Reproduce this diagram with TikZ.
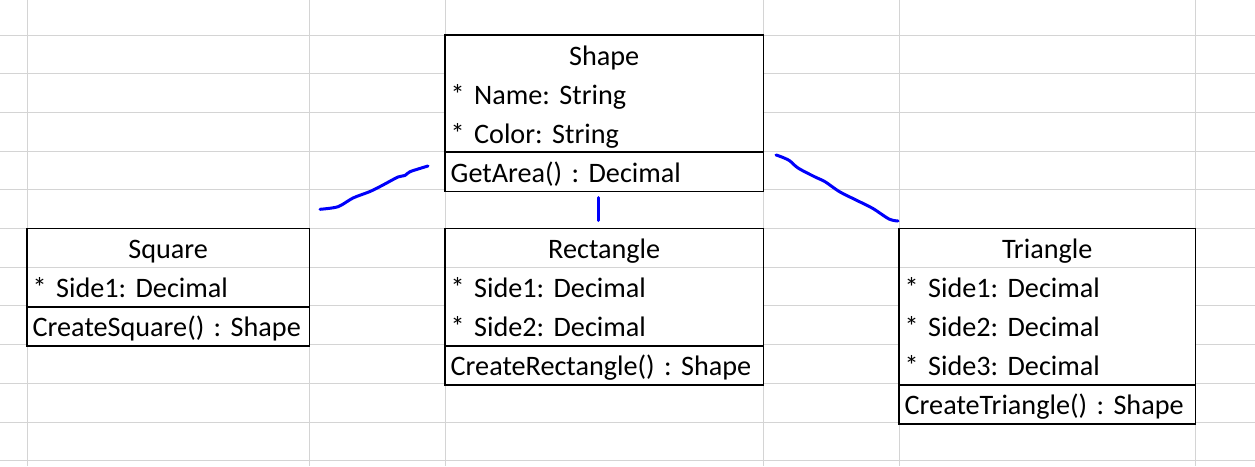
\documentclass[tikz,border=0pt]{standalone}
\usepackage{fontspec}
\setmainfont{Carlito}
\usepackage{tikz}
\usetikzlibrary{positioning}
\definecolor{gridgray}{RGB}{212,212,212}
\definecolor{inkblue}{RGB}{0,0,250}
\frenchspacing

\begin{document}
\begin{tikzpicture}[x=1pt, y=-1pt, font=\fontsize{28.2pt}{34pt}\selectfont]
    \tikzstyle{grid} = [gridgray, line width=1pt]
    \tikzstyle{cell} = [fill=white, text width=#1, inner xsep=5.5pt, inner ysep=0pt, minimum height=38.7pt, text height=25pt, text depth=4pt, align=left]
    \tikzstyle{head} = [cell=#1, align=center]
    \tikzstyle{frame} = [line width=1.8pt]
    \tikzstyle{pen} = [inkblue, line width=3pt, line cap=round, line join=round]

    \useasboundingbox (0,0) rectangle (1255,466);
    \foreach \r in {0,...,11}
      \draw[grid] (0,{35+\r*38.7}) -- (1255,{35+\r*38.7});
    \foreach \c in {27,309,445,763,899,1195}
      \draw[grid] (\c,0) -- (\c,466);

    % Shape
    \node[head=307pt, anchor=north west] (shp)     at (445,35) {Shape};
    \node[cell=307pt, below=0pt of shp]  (shpname) {* Name: String};
    \node[cell=307pt, below=0pt of shpname] (shpcol) {* Color: String};
    \node[cell=307pt, below=0pt of shpcol]  (shpget) {GetArea() : Decimal};

    % Square
    \node[head=271pt, anchor=north west] (sq)     at (27,228.5) {Square};
    \node[cell=271pt, below=0pt of sq]   (sqside) {* Side1: Decimal};
    \node[cell=271pt, below=0pt of sqside] (sqnew) {CreateSquare() : Shape};

    % Rectangle
    \node[head=307pt, anchor=north west] (rect)    at (445,228.5) {Rectangle};
    \node[cell=307pt, below=0pt of rect]   (rectsa) {* Side1: Decimal};
    \node[cell=307pt, below=0pt of rectsa] (rectsb) {* Side2: Decimal};
    \node[cell=307pt, below=0pt of rectsb] (rectnew) {CreateRectangle() : Shape};

    % Triangle
    \node[head=285pt, anchor=north west] (tri)    at (899,228.5) {Triangle};
    \node[cell=285pt, below=0pt of tri]   (trisa) {* Side1: Decimal};
    \node[cell=285pt, below=0pt of trisa] (trisb) {* Side2: Decimal};
    \node[cell=285pt, below=0pt of trisb] (trisc) {* Side3: Decimal};
    \node[cell=285pt, below=0pt of trisc] (trinew) {CreateTriangle() : Shape};

    \draw[frame] (shp.north west) rectangle (shpget.south east);
    \draw[frame] (shpget.north west) -- (shpget.north east);
    \draw[frame] (sq.north west) rectangle (sqnew.south east);
    \draw[frame] (sqnew.north west) -- (sqnew.north east);
    \draw[frame] (rect.north west) rectangle (rectnew.south east);
    \draw[frame] (rectnew.north west) -- (rectnew.north east);
    \draw[frame] (tri.north west) rectangle (trinew.south east);
    \draw[frame] (trinew.north west) -- (trinew.north east);

    % hand drawn links
    \coordinate (sqend)   at (320,209.3);
    \coordinate (shpendl) at (428,166);
    \coordinate (shpendm) at (598.5,197.5);
    \coordinate (rectend) at (598.5,220.5);
    \coordinate (shpendr) at (776,155);
    \coordinate (triend)  at (898,221);
    \draw[pen] plot[smooth, tension=0.5] coordinates {(sqend) (338,206.7) (353,198) (370,191.5) (383,185) (398,177) (405,175.5) (410,171.7) (shpendl)};
    \draw[pen] (shpendm) -- (rectend);
    \draw[pen] plot[smooth, tension=0.5] coordinates {(shpendr) (781,156.7) (789.6,160.7) (798,168) (814.5,176.7) (825,181.7) (839.5,191.7) (856,200) (872.6,208.3) (889,219) (triend)};
  \end{tikzpicture}
\end{document}
